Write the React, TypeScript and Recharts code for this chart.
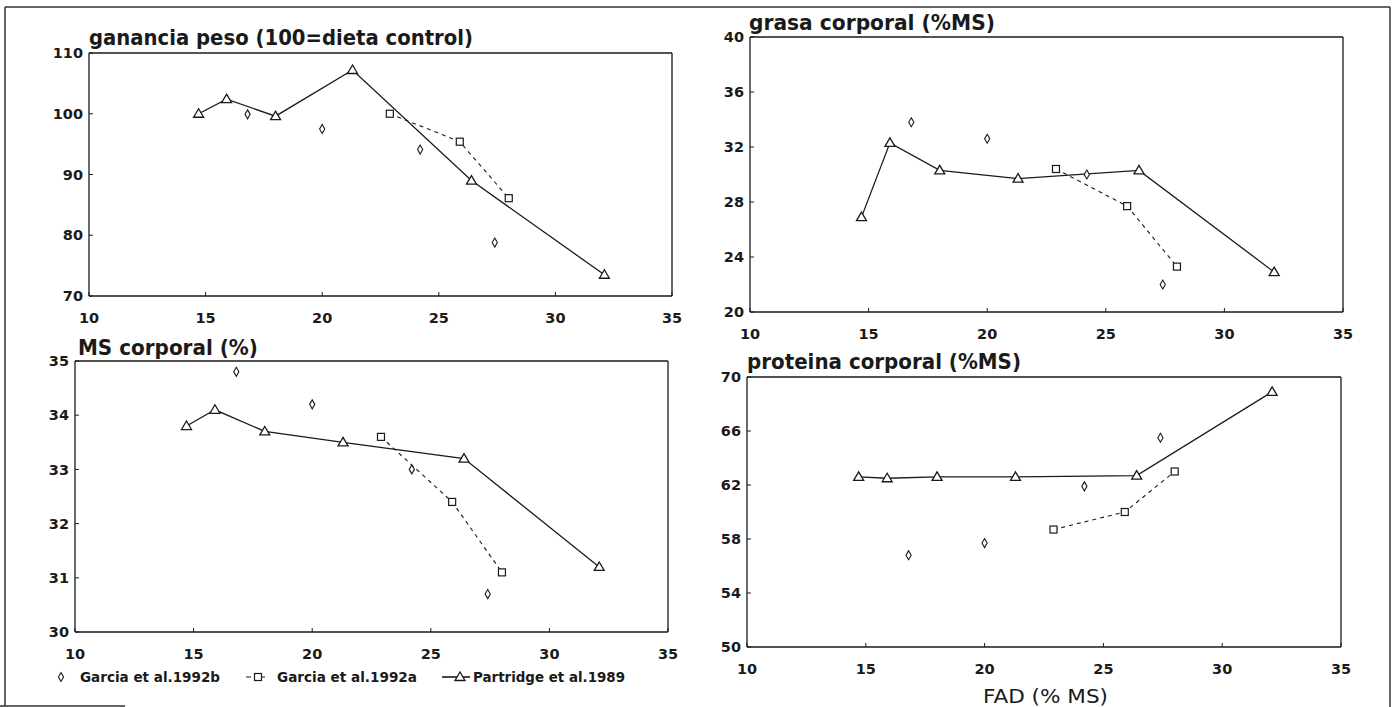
import React from 'react';
import { ComposedChart, Line, XAxis, YAxis, ReferenceLine } from 'recharts';

// FAD (% MS) levels for each study
const fadPartridge = [14.7, 15.9, 18.0, 21.3, 26.4, 32.1];
const fadGarciaB = [16.8, 20.0, 24.2, 27.4];
const fadGarciaA = [22.9, 25.9, 28.0];

// ganancia peso (100 = dieta control)
const gainPartridge = [100, 102.4, 99.6, 107.2, 89.0, 73.5];
const gainGarciaB = [99.9, 97.5, 94.1, 78.8];
const gainGarciaA = [100, 95.4, 86.1];

// grasa corporal (%MS)
const fatPartridge = [26.9, 32.3, 30.3, 29.7, 30.3, 22.9];
const fatGarciaB = [33.8, 32.6, 30.0, 22.0];
const fatGarciaA = [30.4, 27.7, 23.3];

// MS corporal (%)
const msPartridge = [33.8, 34.1, 33.7, 33.5, 33.2, 31.2];
const msGarciaB = [34.8, 34.2, 33.0, 30.7];
const msGarciaA = [33.6, 32.4, 31.1];

// proteina corporal (%MS)
const protPartridge = [62.6, 62.5, 62.6, 62.6, 62.7, 68.9];
const protGarciaB = [56.8, 57.7, 61.9, 65.5];
const protGarciaA = [58.7, 60.0, 63.0];

const xTicks = [10, 15, 20, 25, 30, 35];
const gainTicks = [70, 80, 90, 100, 110];
const fatTicks = [20, 24, 28, 32, 36, 40];
const msTicks = [30, 31, 32, 33, 34, 35];
const protTicks = [50, 54, 58, 62, 66, 70];

const legendLabels = ['Garcia et al.1992b', 'Garcia et al.1992a', 'Partridge et al.1989'];

const INK = '#1a1a1a';
const FONT = '"DejaVu Sans", sans-serif';

const toPoints = (xs: number[], ys: number[]) => xs.map((x, i) => ({ x, y: ys[i] }));

const Triangle = ({ cx, cy }: any) => (
  <path d={`M${cx},${cy - 5} L${cx + 5},${cy + 3.5} L${cx - 5},${cy + 3.5} Z`} fill="#fff" stroke={INK} strokeWidth={1.3} />
);
const Square = ({ cx, cy }: any) => (
  <rect x={cx - 3.5} y={cy - 3.5} width={7} height={7} fill="#fff" stroke={INK} strokeWidth={1.2} />
);
const Diamond = ({ cx, cy }: any) => (
  <path d={`M${cx},${cy - 4.5} L${cx + 2.6},${cy} L${cx},${cy + 4.5} L${cx - 2.6},${cy} Z`} fill="#fff" stroke={INK} strokeWidth={1.1} />
);

const YTick = ({ x, y, payload }: any) => (
  <g>
    <line x1={x} x2={x + 4} y1={y} y2={y} stroke={INK} strokeWidth={1} />
    <text x={x - 6} y={y} dy="0.36em" textAnchor="end" fontFamily={FONT} fontWeight="bold" fontSize={14.5} fill={INK}>
      {payload.value}
    </text>
  </g>
);
const XTick = ({ x, y, payload }: any) => (
  <g>
    <line x1={x} x2={x} y1={y} y2={y - 4} stroke={INK} strokeWidth={1} />
    <text x={x} y={y + 27} textAnchor="middle" fontFamily={FONT} fontWeight="bold" fontSize={14.5} fill={INK}>
      {payload.value}
    </text>
  </g>
);

type PanelProps = {
  L: number; T: number; R: number; B: number;
  yDomain: [number, number]; yTicks: number[];
  partridge: number[]; garciaB: number[]; garciaA: number[];
};

const Panel = ({ L, T, R, B, yDomain, yTicks, partridge, garciaB, garciaA }: PanelProps) => {
  const width = R - L + 70;
  const height = B - T + 50;
  return (
    <div style={{ position: 'absolute', left: L - 60, top: T - 10, width, height }}>
      <ComposedChart width={width} height={height} margin={{ top: 10, right: 10, bottom: 0, left: 0 }}>
        <XAxis type="number" dataKey="x" domain={[10, 35]} ticks={xTicks} allowDataOverflow
          height={40} tickSize={0} tickMargin={0} tickLine={false} tick={<XTick />}
          axisLine={{ stroke: INK, strokeWidth: 1.3 }} />
        <YAxis type="number" dataKey="y" domain={yDomain} ticks={yTicks} allowDataOverflow
          width={60} tickSize={0} tickMargin={0} tickLine={false} tick={<YTick />}
          axisLine={{ stroke: INK, strokeWidth: 1.3 }} />
        <ReferenceLine y={yDomain[1]} stroke={INK} strokeWidth={1.3} />
        <ReferenceLine x={35} stroke={INK} strokeWidth={1.3} />
        <Line data={toPoints(fadGarciaA, garciaA)} dataKey="y" stroke={INK} strokeWidth={1.1}
          strokeDasharray="4 4" isAnimationActive={false} activeDot={false}
          dot={(p: any) => <Square key={`s${p.index}`} cx={p.cx} cy={p.cy} />} />
        <Line data={toPoints(fadPartridge, partridge)} dataKey="y" stroke={INK} strokeWidth={1.3}
          isAnimationActive={false} activeDot={false}
          dot={(p: any) => <Triangle key={`t${p.index}`} cx={p.cx} cy={p.cy} />} />
        <Line data={toPoints(fadGarciaB, garciaB)} dataKey="y" stroke="none"
          isAnimationActive={false} activeDot={false}
          dot={(p: any) => <Diamond key={`d${p.index}`} cx={p.cx} cy={p.cy} />} />
      </ComposedChart>
    </div>
  );
};

const titleStyle = { fontFamily: FONT, fontWeight: 'bold' as const, fill: INK };

export default function App() {
  return (
    <div style={{ position: 'absolute', left: 0, top: 0, width: 1395, height: 707, background: '#fff', overflow: 'hidden' }}>
      <svg width={1395} height={707} style={{ position: 'absolute', left: 0, top: 0 }}>
        {/* outer frame of the scanned figure */}
        <line x1={5} x2={1390} y1={7} y2={7} stroke="#333" strokeWidth={1.5} />
        <line x1={5} x2={5} y1={7} y2={706} stroke="#333" strokeWidth={1.5} />
        <line x1={1390} x2={1390} y1={7} y2={707} stroke="#333" strokeWidth={1.5} />
        <line x1={0} x2={125} y1={706} y2={706} stroke="#333" strokeWidth={1.5} />

        <text x={89} y={45} fontSize={21} textLength={384} lengthAdjust="spacingAndGlyphs" {...titleStyle}>ganancia peso (100=dieta control)</text>
        <text x={749} y={30} fontSize={21} textLength={246} lengthAdjust="spacingAndGlyphs" {...titleStyle}>grasa corporal (%MS)</text>
        <text x={78} y={355} fontSize={21} textLength={180} lengthAdjust="spacingAndGlyphs" {...titleStyle}>MS corporal (%)</text>
        <text x={747} y={369} fontSize={21} textLength={274} lengthAdjust="spacingAndGlyphs" {...titleStyle}>proteina corporal (%MS)</text>
        <text x={983} y={703} fontSize={19} textLength={125} lengthAdjust="spacingAndGlyphs" fontFamily={FONT} fill={INK}>FAD (% MS)</text>

        {/* legend */}
        <Diamond cx={61} cy={677} />
        <text x={80} y={682} fontSize={14.5} textLength={140} lengthAdjust="spacingAndGlyphs" {...titleStyle}>{legendLabels[0]}</text>
        <line x1={246} x2={270} y1={677} y2={677} stroke={INK} strokeWidth={1.1} strokeDasharray="5 9" />
        <Square cx={258} cy={677} />
        <text x={277} y={682} fontSize={14.5} textLength={140} lengthAdjust="spacingAndGlyphs" {...titleStyle}>{legendLabels[1]}</text>
        <line x1={442} x2={470} y1={677} y2={677} stroke={INK} strokeWidth={1.6} />
        <Triangle cx={460} cy={677} />
        <text x={473} y={682} fontSize={14.5} textLength={152} lengthAdjust="spacingAndGlyphs" {...titleStyle}>{legendLabels[2]}</text>
      </svg>

      <Panel L={89} T={53} R={672} B={296} yDomain={[70, 110]} yTicks={gainTicks}
        partridge={gainPartridge} garciaB={gainGarciaB} garciaA={gainGarciaA} />
      <Panel L={750} T={37} R={1343} B={312} yDomain={[20, 40]} yTicks={fatTicks}
        partridge={fatPartridge} garciaB={fatGarciaB} garciaA={fatGarciaA} />
      <Panel L={75} T={361} R={668} B={632} yDomain={[30, 35]} yTicks={msTicks}
        partridge={msPartridge} garciaB={msGarciaB} garciaA={msGarciaA} />
      <Panel L={747} T={377} R={1341} B={647} yDomain={[50, 70]} yTicks={protTicks}
        partridge={protPartridge} garciaB={protGarciaB} garciaA={protGarciaA} />
    </div>
  );
}
